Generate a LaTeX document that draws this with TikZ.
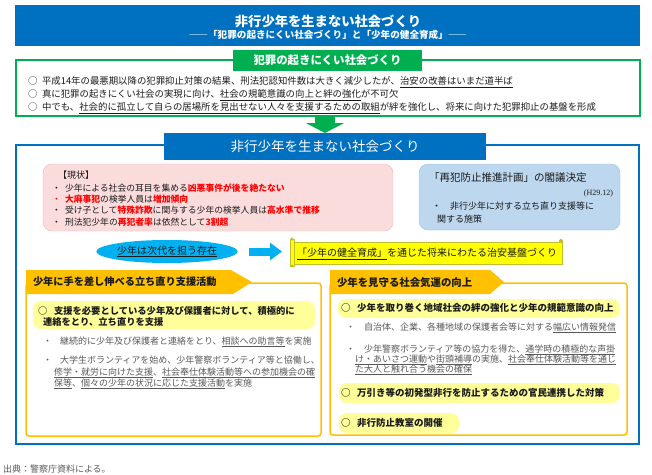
\documentclass[tikz,border=0pt]{standalone}
\usepackage{fontspec}
\setmainfont{Noto Sans CJK JP}
\newfontfamily\serifx{Liberation Serif}
\usetikzlibrary{arrows.meta,shapes.geometric}
\newcommand\ux[1]{\underline{#1}}
\definecolor{topblue}{HTML}{0070C0}
\definecolor{grn}{HTML}{00B050}
\definecolor{pinkf}{HTML}{FBDCDC}
\definecolor{pinkd}{HTML}{F4B6B6}
\definecolor{lbf}{HTML}{BDD7EE}
\definecolor{lbd}{HTML}{9DC3E6}
\definecolor{cyanx}{HTML}{00B0F0}
\definecolor{orng}{HTML}{FFC000}
\definecolor{ylw}{HTML}{FFFF99}
\definecolor{scrollf}{HTML}{FFFF00}
\definecolor{scrolld}{HTML}{BFBF30}
\definecolor{redx}{HTML}{FF0000}
\definecolor{grayt}{HTML}{595959}
\definecolor{darkt}{HTML}{1A1A1A}
\tikzset{
  every node/.style={inner sep=0pt, outer sep=0pt},
  L/.style={anchor=base west, font=\fontsize{#1}{#1}\selectfont, yshift={-0.38*#1}},
  B/.style={anchor=base west, font=\fontsize{#1}{#1}\selectfont\bfseries, yshift={-0.38*#1}},
  C/.style={anchor=base, font=\fontsize{#1}{#1}\selectfont, yshift={-0.38*#1}},
  CB/.style={anchor=base, font=\fontsize{#1}{#1}\selectfont\bfseries, yshift={-0.38*#1}},
  R/.style={anchor=base east, font=\fontsize{#1}{#1}\selectfont, yshift={-0.38*#1}},
  box/.style={anchor=north west},
  hl/.style={fill=ylw, rounded corners=8pt, anchor=north west},
  frame/.style={draw=#1, line width=1.5pt, anchor=north west},
  garrow/.style={draw=grn, line width=20pt, -{Triangle[length=10pt,width=38pt]}},
  carrow/.style={draw=cyanx, line width=8pt, -{Triangle[length=12pt,width=17pt]}},
}
\begin{document}
\begin{tikzpicture}[x=1pt,y=-1pt]
\useasboundingbox (0,0) rectangle (652,474);
% top title
\node[box, fill=topblue, minimum width=625pt, minimum height=41pt] (topbox) at (15,5) {};
\node[CB=13.3, text=white] (title) at (328,21) {非行少年を生まない社会づくり};
\node[CB=9.6, text=white] (subtitle) at (328,35) {――「犯罪の起きにくい社会づくり」と「少年の健全育成」――};
% green part
\node[frame=grn, minimum width=624pt, minimum height=56pt] (gframe) at (16,60) {};
\node[fill=grn, minimum width=189pt, minimum height=21pt, text=white, font=\fontsize{11.4}{11.4}\selectfont\bfseries] (ghead) at (327.5,60.5) {犯罪の起きにくい社会づくり};
\node[L=9.4, text=darkt] (g1o) at (28,81) {○};
\node[L=9.4, text=darkt] (g1) at (42,81) {平成14年の最悪期以降の犯罪抑止対策の結果、刑法犯認知件数は大きく減少したが、\ux{治安の改善はいまだ道半ば}};
\node[L=9.4, text=darkt] (g2o) at (28,94) {○};
\node[L=9.4, text=darkt] (g2) at (42,94) {真に犯罪の起きにくい社会の実現に向け、\ux{社会の規範意識の向上と絆の強化}が不可欠};
\node[L=9.4, text=darkt] (g3o) at (28,107) {○};
\node[L=9.4, text=darkt] (g3) at (42,107) {中でも、\ux{社会的に孤立して自らの居場所を見出せない人々を支援するための取組}が絆を強化し、将来に向けた犯罪抑止の基盤を形成};
% blue frame
\node[frame=topblue, minimum width=623pt, minimum height=299pt] (bframe) at (16,145) {};
\node[fill=topblue, minimum width=322pt, minimum height=27pt, text=white, font=\fontsize{13.5}{13.5}\selectfont] (bhead) at (325,146.5) {非行少年を生まない社会づくり};
\draw[garrow] (gframe.south -| bhead.north) -- (bhead.north);
% pink box
\node[box, draw=pinkd, fill=pinkf, rounded corners=9pt, minimum width=350pt, minimum height=67pt] (pink) at (43,164) {};
\node[L=9, text=darkt] (p0) at (58,175) {【現状】};
\node[L=8.8, text=darkt] (p1d) at (52,188) {・};
\node[L=8.8, text=darkt] (p1) at (65,188) {少年による社会の耳目を集める\textcolor{redx}{\bfseries 凶悪事件が後を絶たない}};
\node[L=8.8, text=redx] (p2d) at (52,199) {・};
\node[L=8.8, text=darkt] (p2) at (65,199) {\textcolor{redx}{\bfseries 大麻事犯}の検挙人員は\textcolor{redx}{\bfseries 増加傾向}};
\node[L=8.8, text=darkt] (p3d) at (52,210) {・};
\node[L=8.8, text=darkt] (p3) at (65,210) {受け子として\textcolor{redx}{\bfseries 特殊詐欺}に関与する少年の検挙人員は\textcolor{redx}{\bfseries 高水準で推移}};
\node[L=8.8, text=darkt] (p4d) at (52,222) {・};
\node[L=8.8, text=darkt] (p4) at (65,222) {刑法犯少年の\textcolor{redx}{\bfseries 再犯者率}は依然として\textcolor{redx}{\bfseries 3割超}};
% light blue box
\node[box, draw=lbd, fill=lbf, rounded corners=9pt, minimum width=201pt, minimum height=66pt] (lblue) at (419,164) {};
\node[L=10.5, text=darkt] (lb1) at (429,178) {「再犯防止推進計画」の閣議決定};
\node[R=8, text=darkt, font=\fontsize{8}{8}\serifx] (lb2) at (613,192) {(H29.12)};
\node[L=9, text=darkt] (lb3) at (432,206) {・\hspace{9pt}非行少年に対する立ち直り支援等に};
\node[L=9, text=darkt] (lb4) at (437,219) {関する施策};
% ellipse, arrow, scroll
\node[ellipse, fill=cyanx, minimum width=130pt, minimum height=23pt, text=darkt, font=\fontsize{10}{10}\selectfont] (ell) at (167,251.5) {\ux{少年は次代を担う存在}};
\node[box, fill=scrollf, draw=scrolld, line width=0.6pt, minimum width=271pt, minimum height=22pt] (scroll) at (291,242) {};
\draw[carrow, shorten <=11pt, shorten >=9pt] (ell.east) -- (ell.east -| scroll.west);
\path[fill=scrollf, draw=scrolld, line width=0.6pt] (290,239) rectangle (294,266);
\fill[scrolld] (292,239) circle (1.6pt) (292,266) circle (1.6pt) (561,241) circle (2pt);
\node[L=10, text=darkt] (scrolltxt) at (297,253) {\ux{「少年の健全育成」}を通じた将来にわたる治安基盤づくり};
% left orange section
\node[frame=orng, rounded corners=3pt, minimum width=295pt, minimum height=153pt] (lframe) at (26,283) {};
\path[fill=orng] (26,270) -- (231,270) -- (252,282) -- (233,294) -- (26,294) -- cycle;
\node[B=10.2, text=darkt] (ltab) at (33,282) {少年に手を差し伸べる立ち直り支援活動};
\node[hl, minimum width=282pt, minimum height=28pt] (lh1) at (33,301) {};
\node[B=9.3, text=darkt] (lh1o) at (38,311) {○};
\node[B=9.3, text=darkt] (lh1a) at (54,311) {支援を必要としている少年及び保護者に対して、積極的に};
\node[B=9.3, text=darkt] (lh1b) at (43,322) {連絡をとり、立ち直りを支援};
\node[L=9, text=grayt] (lb1d) at (43,341) {・};
\node[L=9, text=grayt] (lb1t) at (60,341) {継続的に少年及び保護者と連絡をとり、\ux{相談への助言等}を実施};
\node[L=9, text=grayt] (lb2d) at (43,360) {・};
\node[L=9, text=grayt] (lb2t) at (60,360) {大学生ボランティアを始め、少年警察ボランティア等と協働し、};
\node[L=9, text=grayt] (lb2u) at (54,372) {\ux{修学・就労に向けた支援}、\ux{社会奉仕体験活動等への参加機会の確}};
\node[L=9, text=grayt] (lb2v) at (54,383) {\ux{保等}、\ux{個々の少年の状況に応じた支援活動}を実施};
% right orange section
\node[frame=orng, rounded corners=3pt, minimum width=297pt, minimum height=152pt] (rframe) at (330,283) {};
\path[fill=orng] (330,270) -- (490,270) -- (504,282) -- (490,294) -- (330,294) -- cycle;
\node[B=10.4, text=darkt] (rtab) at (337,283) {少年を見守る社会気運の向上};
\node[hl, minimum width=282pt, minimum height=19pt] (rh1) at (338,299) {};
\node[B=9.5, text=darkt] (rh1o) at (341,308) {○};
\node[B=9.5, text=darkt] (rh1t) at (357,308) {少年を取り巻く地域社会の絆の強化と少年の規範意識の向上};
\node[L=9, text=grayt] (rb1d) at (346,327) {・};
\node[L=9, text=grayt] (rb1t) at (364,327) {自治体、企業、各種地域の保護者会等に対する\ux{幅広い情報発信}};
\node[L=9, text=grayt] (rb2d) at (346,349) {・};
\node[L=9, text=grayt] (rb2t) at (364,349) {少年警察ボランティア等の協力を得た、\ux{通学時の積極的な声掛}};
\node[L=9, text=grayt] (rb2u) at (355,359) {\ux{け・あいさつ運動}や\ux{街頭補導}の実施、\ux{社会奉仕体験活動等を通じ}};
\node[L=9, text=grayt] (rb2v) at (355,369) {\ux{た大人と触れ合う機会の確保}};
\node[hl, minimum width=281pt, minimum height=20pt] (rh2) at (339,383) {};
\node[B=9.5, text=darkt] (rh2o) at (341,393) {○};
\node[B=9.5, text=darkt] (rh2t) at (357,393) {万引き等の初発型非行を防止するための官民連携した対策};
\node[hl, minimum width=120pt, minimum height=20pt] (rh3) at (339,413) {};
\node[B=9.5, text=darkt] (rh3o) at (341,423) {○};
\node[B=9.5, text=darkt] (rh3t) at (357,423) {非行防止教室の開催};
% source
\node[L=9, text=grayt] (src) at (3,469) {出典：警察庁資料による。};
\end{tikzpicture}
\end{document}
